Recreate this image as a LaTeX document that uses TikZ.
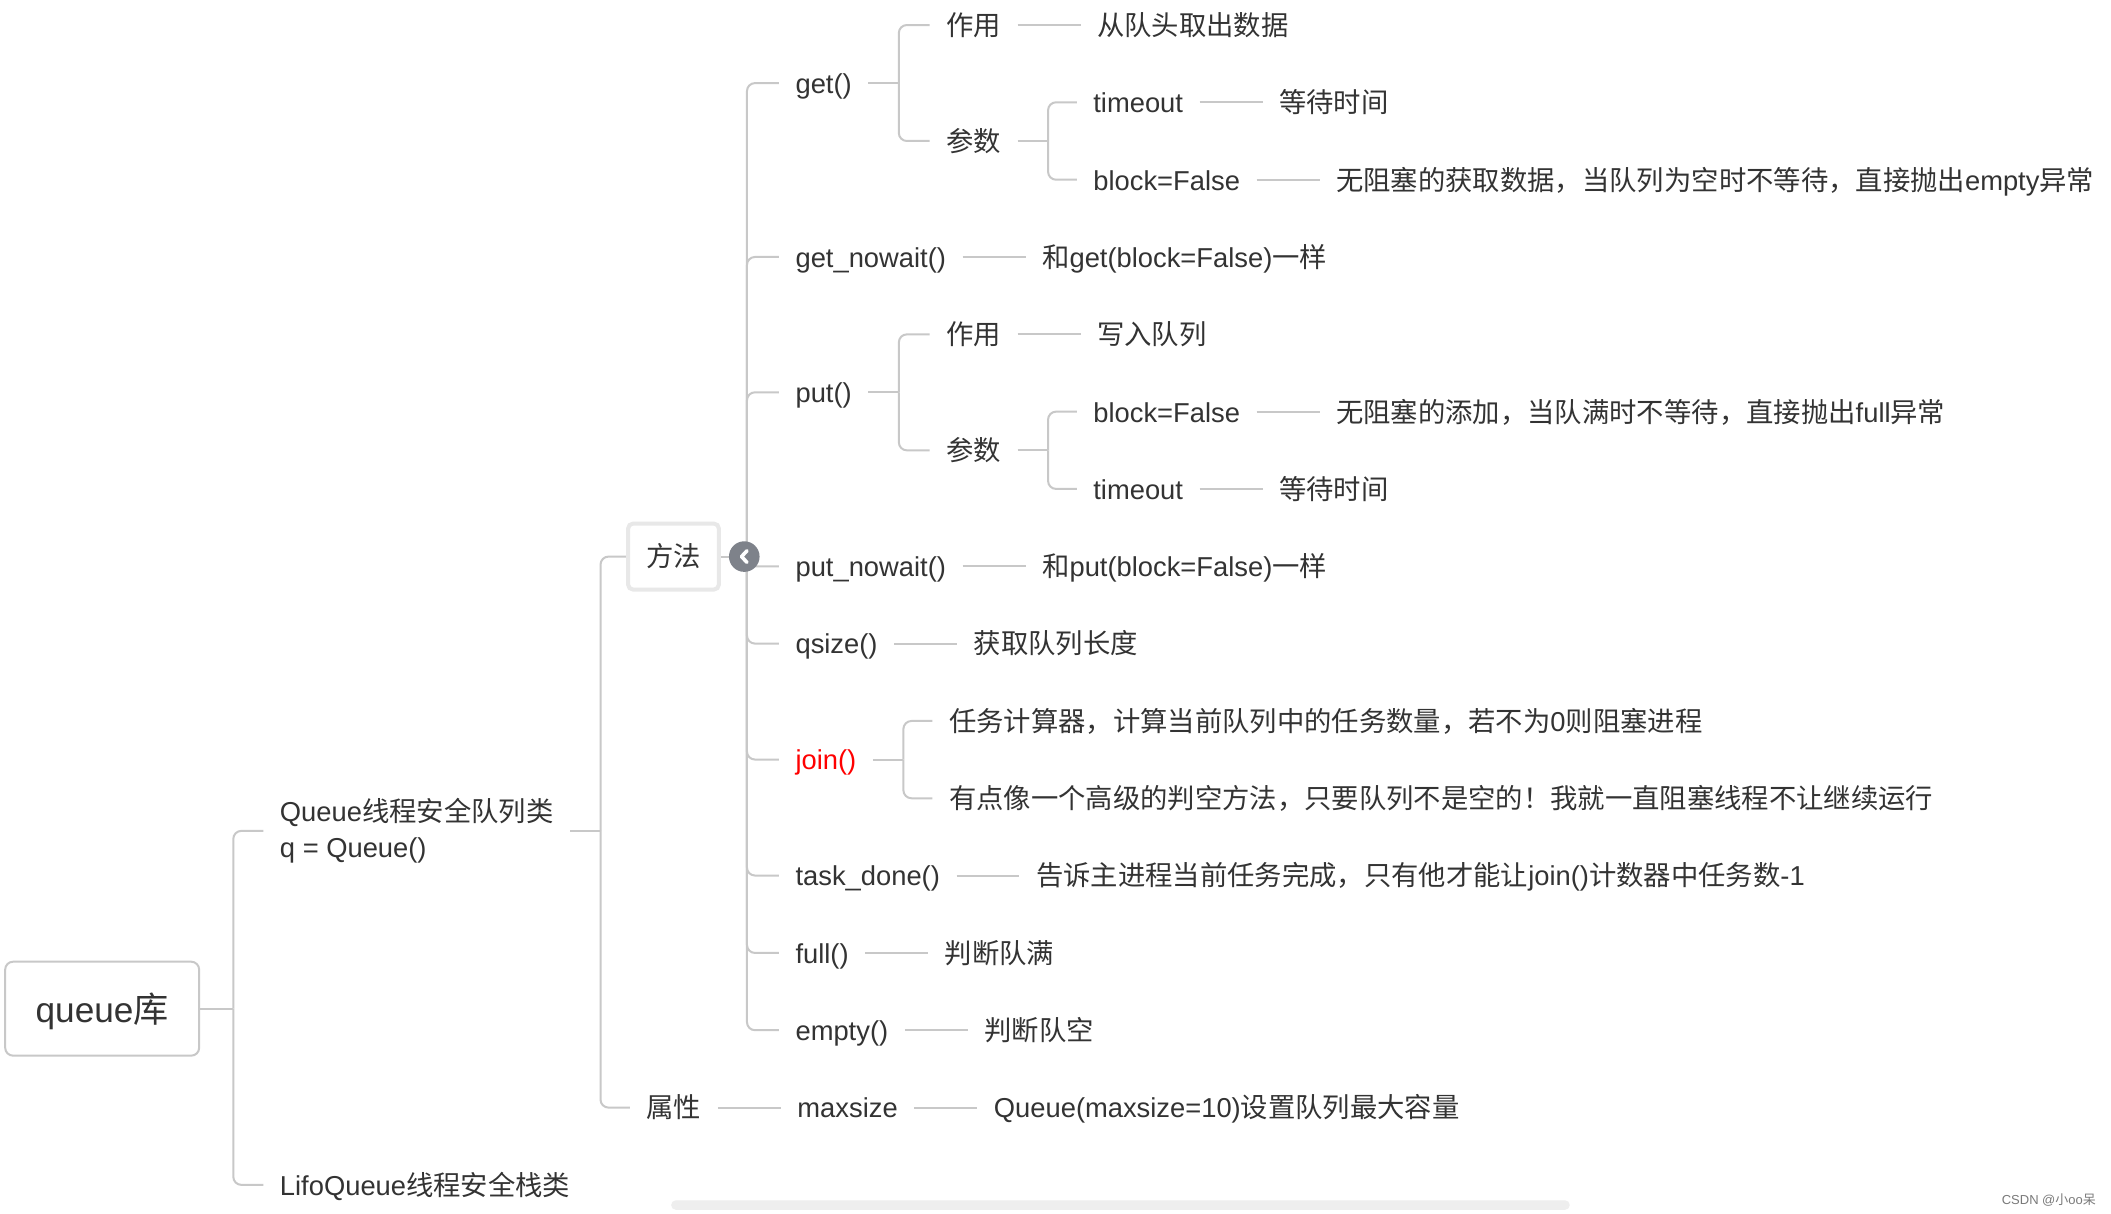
\documentclass[tikz,border=0pt]{standalone}
\usepackage{fontspec}
\setmainfont{Liberation Sans}
\newfontfamily\cjkf{Noto Sans CJK SC}
\newcommand\zh[1]{{\cjkf #1}}
\usetikzlibrary{calc}
\definecolor{lineC}{HTML}{C8C8C8}
\definecolor{txtC}{HTML}{333333}
\definecolor{boxC}{HTML}{E8E8E8}
\definecolor{circC}{HTML}{7E828A}
\definecolor{barC}{HTML}{EEEEEE}
\definecolor{wmC}{HTML}{7A7A7A}
\definecolor{redC}{HTML}{FF0000}
\pgfdeclarelayer{bg}
\pgfdeclarelayer{lines}
\pgfsetlayers{bg,lines,main}
\begin{document}
\begin{tikzpicture}[x=0.6766pt,y=-0.6766pt,
  conn/.style={draw=lineC,line width=1pt,rounded corners=4pt},
  tx/.style={font=\fontsize{13.67}{16.4}\selectfont,text=txtC,inner xsep=8.12pt,inner ysep=0pt,text height=12pt,text depth=1.64pt,anchor=west},
  txm/.style={font=\fontsize{13.67}{18.3}\selectfont,text=txtC,inner xsep=8.12pt,inner ysep=0pt,anchor=west,align=left},
  rootbox/.style={draw=lineC,line width=1pt,rounded corners=4pt,fill=white,minimum width=97pt,minimum height=47pt,inner sep=0pt,font=\fontsize{17.6}{20}\selectfont,text=txtC,text height=15.5pt,text depth=2.1pt},
  fbox/.style={draw=boxC,line width=2pt,rounded corners=2.5pt,fill=white,minimum width=45.4pt,minimum height=33pt,inner sep=0pt,font=\fontsize{13.67}{16.4}\selectfont,text=txtC,text height=12pt,text depth=1.64pt},
  foldc/.style={circle,fill=circC,minimum size=15.3pt,inner sep=0pt},
  chev/.style={draw=white,line width=1.8pt,line cap=round,line join=round}
]
\begin{pgfonlayer}{bg}
\fill[white] (0,0) rectangle (1560,896.4);
\end{pgfonlayer}
\useasboundingbox (0,0) rectangle (1560,896.4);

% root and level 1
\node[rootbox] (root) at (75.5,745.4) {queue\zh{库}};
\node[txm] (queue) at (194.6,614) {Queue\zh{线程安全队列类}\\q = Queue()};
\node[tx] (lifo) at (194.6,875.6) {LifoQueue\zh{线程安全栈类}};

% level 2
\node[fbox] (fangfa) at (497.7,411.3) {\zh{方法}};
\node[tx] (shuxing) at (465.5,818.5) {\zh{属性}};
\node[tx] (maxsize) at ($(shuxing.east)+(46.5,0)$) {maxsize};
\node[tx] (maxL) at ($(maxsize.east)+(46.5,0)$) {Queue(maxsize=10)\zh{设置队列最大容量}};

% level 3 (methods)
\node[tx] (get) at (575.6,61.4) {get()};
\node[tx] (gnw) at (575.6,189.9) {get\_nowait()};
\node[tx] (put) at (575.6,289.9) {put()};
\node[tx] (pnw) at (575.6,418.5) {put\_nowait()};
\node[tx] (qsize) at (575.6,475.6) {qsize()};
\node[tx,text=redC] (join) at (575.6,561.3) {join()};
\node[tx] (tdone) at (575.6,647.0) {task\_done()};
\node[tx] (full) at (575.6,704.2) {full()};
\node[tx] (empty) at (575.6,761.3) {empty()};

% get subtree
\node[tx] (zy1) at (687,18.5) {\zh{作用}};
\node[tx] (cs1) at (687,104.2) {\zh{参数}};
\node[tx] (to1) at (795.7,75.6) {timeout};
\node[tx] (bl1) at (795.7,132.8) {block=False};
\node[tx] (zy1L) at ($(zy1.east)+(46.5,0)$) {\zh{从队头取出数据}};
\node[tx] (to1L) at ($(to1.east)+(46.5,0)$) {\zh{等待时间}};
\node[tx] (bl1L) at ($(bl1.east)+(46.5,0)$) {\zh{无阻塞的获取数据，当队列为空时不等待，直接抛出}empty\zh{异常}};
\node[tx] (gnwL) at ($(gnw.east)+(46.5,0)$) {\zh{和}get(block=False)\zh{一样}};

% put subtree
\node[tx] (zy2) at (687,247.1) {\zh{作用}};
\node[tx] (cs2) at (687,332.8) {\zh{参数}};
\node[tx] (bl2) at (795.7,304.2) {block=False};
\node[tx] (to2) at (795.7,361.3) {timeout};
\node[tx] (zy2L) at ($(zy2.east)+(46.5,0)$) {\zh{写入队列}};
\node[tx] (bl2L) at ($(bl2.east)+(46.5,0)$) {\zh{无阻塞的添加，当队满时不等待，直接抛出}full\zh{异常}};
\node[tx] (to2L) at ($(to2.east)+(46.5,0)$) {\zh{等待时间}};
\node[tx] (pnwL) at ($(pnw.east)+(46.5,0)$) {\zh{和}put(block=False)\zh{一样}};

\node[tx] (qsizeL) at ($(qsize.east)+(46.5,0)$) {\zh{获取队列长度}};

% join subtree
\node[tx] (ja) at (689,532.8) {\zh{任务计算器，计算当前队列中的任务数量，若不为}0\zh{则阻塞进程}};
\node[tx] (jb) at (689,589.9) {\zh{有点像一个高级的判空方法，只要队列不是空的！我就一直阻塞线程不让继续运行}};

\node[tx] (tdoneL) at ($(tdone.east)+(46.5,0)$) {\zh{告诉主进程当前任务完成，只有他才能让}join()\zh{计数器中任务数}-1};
\node[tx] (fullL) at ($(full.east)+(46.5,0)$) {\zh{判断队满}};
\node[tx] (emptyL) at ($(empty.east)+(46.5,0)$) {\zh{判断队空}};

% fold circle
\node[foldc] (fold) at (550,411.3) {};
\draw[chev] ($(fold.center)+(2,-4.3)$) -- ($(fold.center)+(-2,0)$) -- ($(fold.center)+(2,4.3)$);

% trunk coordinates
\coordinate (tR) at ($(root.east)+(24.5,0)$);
\coordinate (tQ) at ($(queue.east)+(22.5,0)$);
\coordinate (tM) at (552,411.3);
\coordinate (tG) at ($(get.east)+(22.5,0)$);
\coordinate (tC1) at ($(cs1.east)+(22.5,0)$);
\coordinate (tP) at ($(put.east)+(22.5,0)$);
\coordinate (tC2) at ($(cs2.east)+(22.5,0)$);
\coordinate (tJ) at ($(join.east)+(22.5,0)$);

\begin{pgfonlayer}{lines}
% root
\draw[conn] (root.east) -- (tR);
\draw[conn] (tR) |- (queue.west);
\draw[conn] (tR) |- (lifo.west);
% queue
\draw[conn] (queue.east) -- (tQ);
\draw[conn] (tQ) |- (fangfa.west);
\draw[conn] (tQ) |- (shuxing.west);
\draw[conn] (shuxing.east) -- (maxsize.west);
\draw[conn] (maxsize.east) -- (maxL.west);
% methods
\draw[conn] (fangfa.east) -- (fold.west);
\foreach \c in {get,gnw,put,pnw,qsize,join,tdone,full,empty}{
  \draw[conn] (tM) |- (\c.west);
}
% get
\draw[conn] (get.east) -- (tG);
\draw[conn] (tG) |- (zy1.west);
\draw[conn] (tG) |- (cs1.west);
\draw[conn] (zy1.east) -- (zy1L.west);
\draw[conn] (cs1.east) -- (tC1);
\draw[conn] (tC1) |- (to1.west);
\draw[conn] (tC1) |- (bl1.west);
\draw[conn] (to1.east) -- (to1L.west);
\draw[conn] (bl1.east) -- (bl1L.west);
\draw[conn] (gnw.east) -- (gnwL.west);
% put
\draw[conn] (put.east) -- (tP);
\draw[conn] (tP) |- (zy2.west);
\draw[conn] (tP) |- (cs2.west);
\draw[conn] (zy2.east) -- (zy2L.west);
\draw[conn] (cs2.east) -- (tC2);
\draw[conn] (tC2) |- (bl2.west);
\draw[conn] (tC2) |- (to2.west);
\draw[conn] (bl2.east) -- (bl2L.west);
\draw[conn] (to2.east) -- (to2L.west);
\draw[conn] (pnw.east) -- (pnwL.west);
\draw[conn] (qsize.east) -- (qsizeL.west);
% join
\draw[conn] (join.east) -- (tJ);
\draw[conn] (tJ) |- (ja.west);
\draw[conn] (tJ) |- (jb.west);
\draw[conn] (tdone.east) -- (tdoneL.west);
\draw[conn] (full.east) -- (fullL.west);
\draw[conn] (empty.east) -- (emptyL.west);
\end{pgfonlayer}

% scrollbar and watermark
\fill[barC,rounded corners=2.3pt] (496,887) rectangle (1160,894);
\node[font=\fontsize{6.5}{8}\selectfont,text=wmC,anchor=west,inner sep=0pt] (wm) at (1479,887) {CSDN @\zh{小}oo\zh{呆}};
\end{tikzpicture}
\end{document}
